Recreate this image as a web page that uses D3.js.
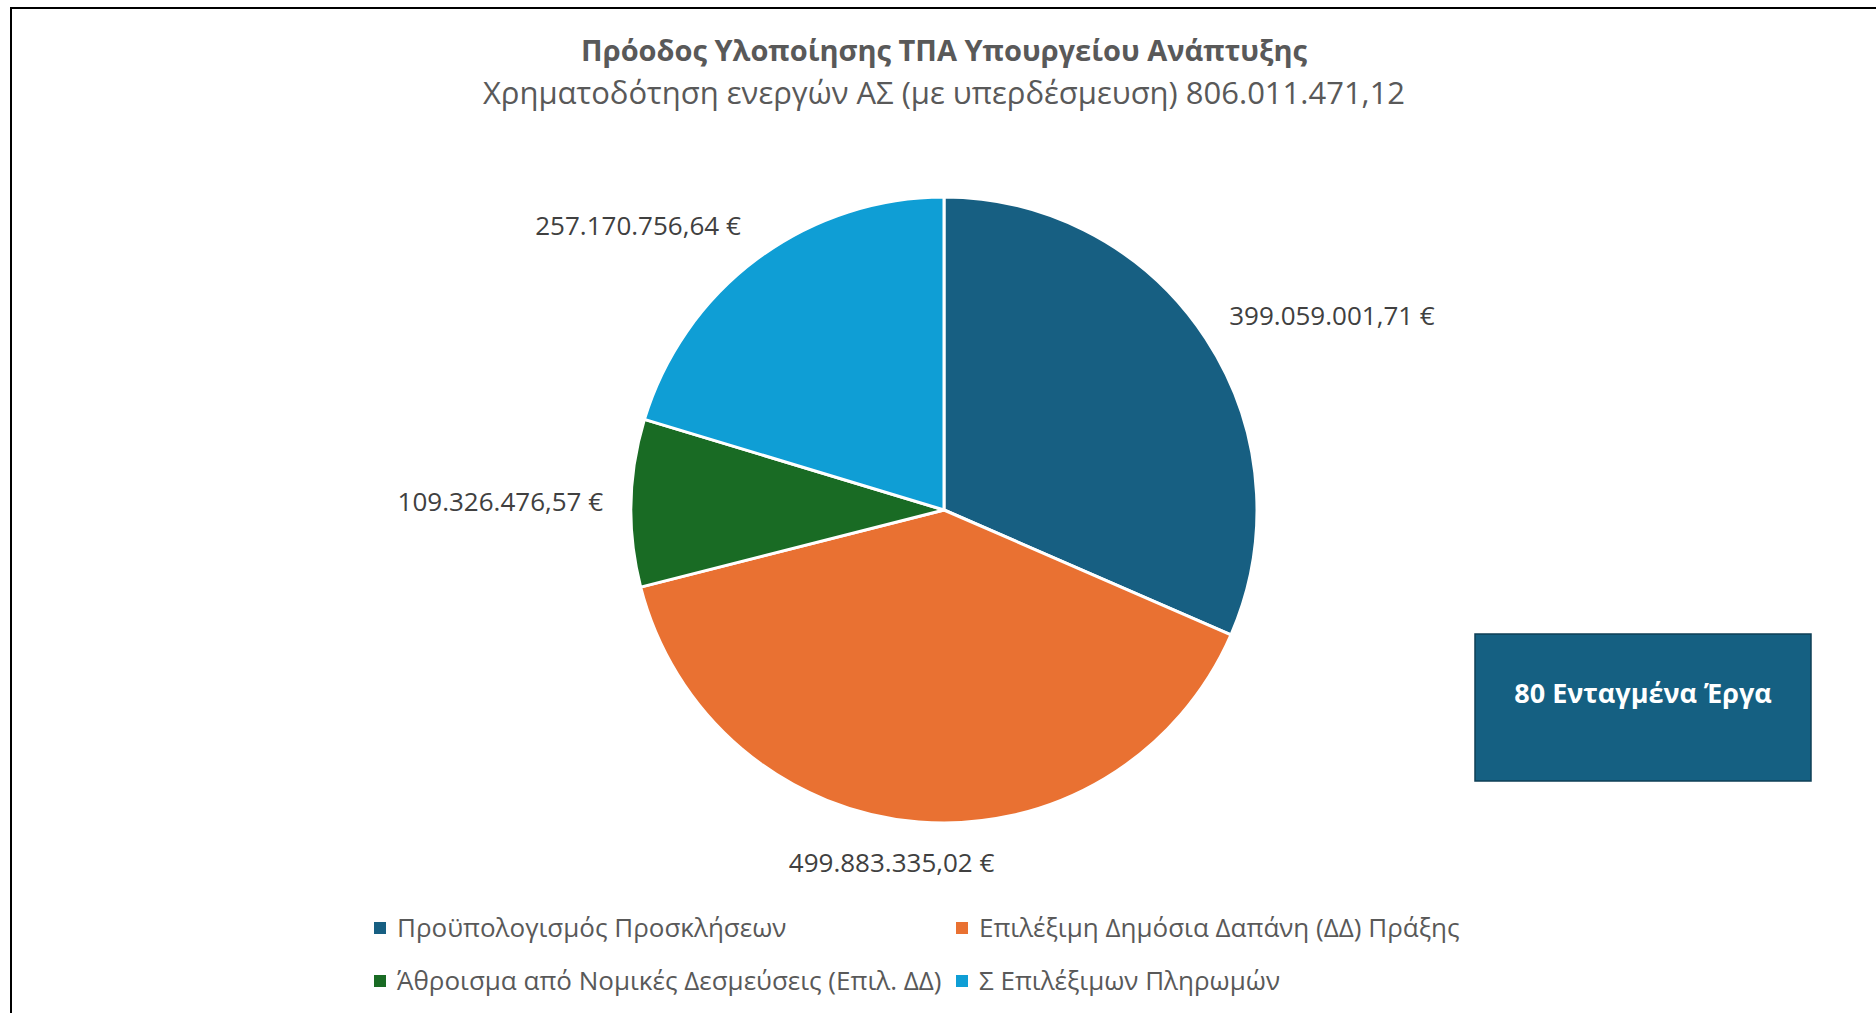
<!DOCTYPE html>
<html>
<head>
<meta charset="utf-8">
<script src="https://cdn.jsdelivr.net/npm/d3@7"></script>
<style>
  body { margin: 0; background: #fff; }
  svg text { font-family: "Open Sans", "Noto Sans", sans-serif; }
</style>
</head>
<body>
<svg id="chart" width="1876" height="1013"></svg>
<script>
// data
const categories = [
  'Προϋπολογισμός Προσκλήσεων',
  'Επιλέξιμη Δημόσια Δαπάνη (ΔΔ) Πράξης',
  'Άθροισμα από Νομικές Δεσμεύσεις (Επιλ. ΔΔ)',
  'Σ Επιλέξιμων Πληρωμών'
]
const values = [399059001.71, 499883335.02, 109326476.57, 257170756.64]
const labels = ['399.059.001,71 €', '499.883.335,02 €', '109.326.476,57 €', '257.170.756,64 €']
const colors = ['#175F82', '#E97132', '#196B24', '#0F9ED5']

const title = 'Πρόοδος Υλοποίησης ΤΠΑ Υπουργείου Ανάπτυξης'
const subtitle = 'Χρηματοδότηση ενεργών ΑΣ (με υπερδέσμευση) 806.011.471,12'
const boxText = '80 Ενταγμένα Έργα'

const W = 1876, H = 1013
const svg = d3.select('#chart')

// outer frame (only top + left edges show in the crop)
svg.append('rect')
  .attr('x', 11).attr('y', 8)
  .attr('width', W + 20).attr('height', H + 20)
  .attr('fill', 'none').attr('stroke', '#000').attr('stroke-width', 2)

// titles
svg.append('text')
  .attr('x', 944).attr('y', 61)
  .attr('text-anchor', 'middle')
  .attr('font-size', 29).attr('font-weight', 'bold')
  .attr('fill', '#595959')
  .text(title)
svg.append('text')
  .attr('x', 944).attr('y', 104)
  .attr('text-anchor', 'middle')
  .attr('font-size', 31)
  .attr('fill', '#595959')
  .text(subtitle)

// pie
const cx = 944, cy = 510, r = 313
const pie = d3.pie().sort(null).value(d => d)
const arc = d3.arc().innerRadius(0).outerRadius(r)
const arcs = pie(values)

const g = svg.append('g').attr('transform', `translate(${cx},${cy})`)
g.selectAll('path')
  .data(arcs)
  .enter()
  .append('path')
  .attr('d', arc)
  .attr('fill', (d, i) => colors[i])
  .attr('stroke', '#fff')
  .attr('stroke-width', 3)
  .attr('stroke-linejoin', 'round')

// outside-end labels
const fs = 26
g.selectAll('text.lbl')
  .data(arcs)
  .enter()
  .append('text')
  .attr('class', 'lbl')
  .attr('font-size', fs)
  .attr('fill', '#404040')
  .attr('dy', '0.35em')
  .attr('text-anchor', 'middle')
  .text((d, i) => labels[i])
  .each(function(d){
    var a = (d.startAngle + d.endAngle) / 2
    var s = Math.sin(a), c = Math.cos(a)
    var rr = r + 28
    var w = this.getComputedTextLength()
    // slide the box sideways so it sits off the rim
    var k = Math.max(-1, Math.min(1, s * 3))
    var x = rr * s + k * w / 2
    var y = -rr * c - c * fs * 0.5
    d3.select(this).attr('x', x).attr('y', y)
  })

// legend, 2 columns
const legX = [380, 962], legY = [928, 981]
const leg = svg.append('g')
const items = leg.selectAll('g')
  .data(categories)
  .enter()
  .append('g')
  .attr('transform', (d, i) => `translate(${legX[i % 2]}, ${legY[Math.floor(i / 2)]})`)
items.append('rect')
  .attr('x', -6).attr('y', -6)
  .attr('width', 12).attr('height', 12)
  .attr('fill', (d, i) => colors[i])
items.append('text')
  .attr('x', 17).attr('y', 0)
  .attr('dy', '0.35em')
  .attr('font-size', 26)
  .attr('fill', '#595959')
  .text(d => d)

// side box
const box = svg.append('g').attr('transform', 'translate(1475,634)')
box.append('rect')
  .attr('width', 336).attr('height', 147)
  .attr('fill', '#156082')
  .attr('stroke', '#0E3F56').attr('stroke-width', 1.5)
box.append('text')
  .attr('x', 168).attr('y', 60)
  .attr('dy', '0.35em')
  .attr('text-anchor', 'middle')
  .attr('font-size', 27).attr('font-weight', 'bold')
  .attr('fill', '#fff')
  .text(boxText)
</script>
</body>
</html>
